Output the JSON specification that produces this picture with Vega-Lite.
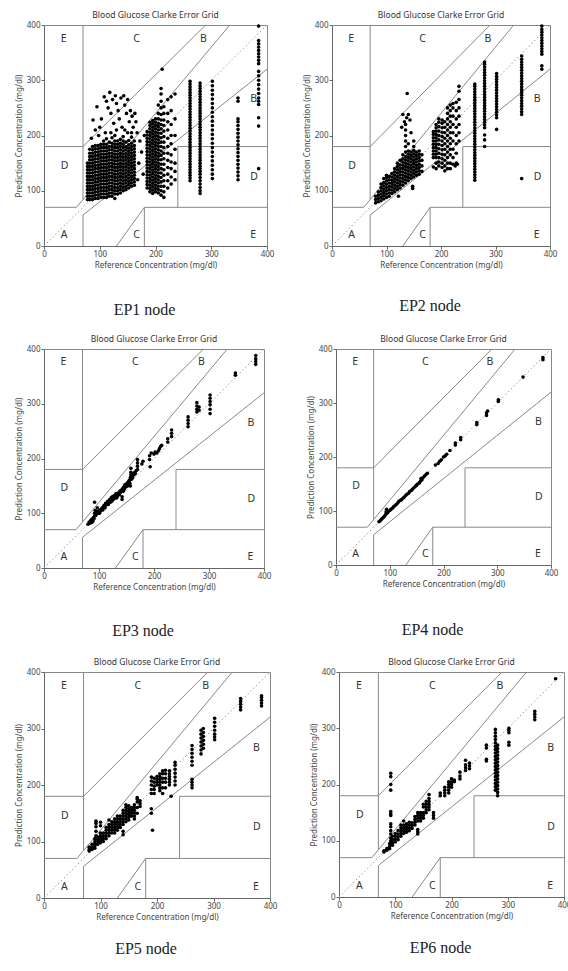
{
"$schema": "https://vega.github.io/schema/vega-lite/v6.json",
"padding": {"left": 14, "top": 10, "right": 4, "bottom": 4},
"background": "white",
"config": {
  "view": {"stroke": "#888", "strokeWidth": 1},
  "axis": {"grid": false, "labelFont": "Noto Sans", "labelFontSize": 8, "labelColor": "#444", "titleFont": "Noto Sans", "titleFontSize": 8, "titleFontWeight": "normal", "titleColor": "#444", "domainColor": "#666", "tickColor": "#666", "tickSize": 3, "labelPadding": 1, "titlePadding": 3, "labelFlush": false, "labelOverlap": false}
},
"spacing": 16,
"datasets": {
  "zones": [{"x":0,"y":70,"x2":58.33,"y2":70},{"x":58.33,"y":70,"x2":333.33,"y2":400},{"x":70,"y":84,"x2":70,"y2":400},{"x":0,"y":180,"x2":70,"y2":180},{"x":70,"y":180,"x2":290,"y2":400},{"x":70,"y":0,"x2":70,"y2":56},{"x":70,"y":56,"x2":400,"y2":320},{"x":180,"y":0,"x2":180,"y2":70},{"x":180,"y":70,"x2":400,"y2":70},{"x":240,"y":70,"x2":240,"y2":180},{"x":240,"y":180,"x2":400,"y2":180},{"x":130,"y":0,"x2":180,"y2":70}],
  "diag": [{"x":0,"y":0,"x2":400,"y2":400}],
  "labels": [{"x":30,"y":15,"t":"A"},{"x":370,"y":260,"t":"B"},{"x":280,"y":370,"t":"B"},{"x":160,"y":370,"t":"C"},{"x":160,"y":15,"t":"C"},{"x":30,"y":140,"t":"D"},{"x":370,"y":120,"t":"D"},{"x":30,"y":370,"t":"E"},{"x":370,"y":15,"t":"E"}],
  "ep1": [
{"x":78,"y":84},{"x":78,"y":90},{"x":78,"y":96},{"x":78,"y":102},{"x":78,"y":108},{"x":78,"y":114},{"x":78,"y":120},{"x":78,"y":126},{"x":78,"y":132},{"x":78,"y":138},{"x":78,"y":144},{"x":78,"y":150},
{"x":82,"y":84},{"x":82,"y":90},{"x":82,"y":96},{"x":82,"y":102},{"x":82,"y":108},{"x":82,"y":114},{"x":82,"y":120},{"x":82,"y":126},{"x":82,"y":132},{"x":82,"y":138},{"x":82,"y":144},{"x":82,"y":150},{"x":82,"y":156},{"x":82,"y":162},{"x":82,"y":168},{"x":82,"y":175},
{"x":87,"y":84},{"x":87,"y":90},{"x":87,"y":96},{"x":87,"y":102},{"x":87,"y":108},{"x":87,"y":114},{"x":87,"y":120},{"x":87,"y":126},{"x":87,"y":132},{"x":87,"y":138},{"x":87,"y":144},{"x":87,"y":150},{"x":87,"y":156},{"x":87,"y":162},{"x":87,"y":168},{"x":87,"y":174},{"x":87,"y":180},
{"x":92,"y":86},{"x":92,"y":92},{"x":92,"y":98},{"x":92,"y":104},{"x":92,"y":110},{"x":92,"y":116},{"x":92,"y":122},{"x":92,"y":128},{"x":92,"y":134},{"x":92,"y":140},{"x":92,"y":146},{"x":92,"y":152},{"x":92,"y":158},{"x":92,"y":164},{"x":92,"y":170},{"x":92,"y":176},{"x":92,"y":182},
{"x":97,"y":86},{"x":97,"y":92},{"x":97,"y":98},{"x":97,"y":104},{"x":97,"y":110},{"x":97,"y":116},{"x":97,"y":122},{"x":97,"y":128},{"x":97,"y":134},{"x":97,"y":140},{"x":97,"y":146},{"x":97,"y":152},{"x":97,"y":158},{"x":97,"y":164},{"x":97,"y":170},{"x":97,"y":176},{"x":97,"y":182},
{"x":102,"y":88},{"x":102,"y":94},{"x":102,"y":100},{"x":102,"y":106},{"x":102,"y":112},{"x":102,"y":118},{"x":102,"y":124},{"x":102,"y":130},{"x":102,"y":136},{"x":102,"y":142},{"x":102,"y":148},{"x":102,"y":154},{"x":102,"y":160},{"x":102,"y":166},{"x":102,"y":172},{"x":102,"y":178},{"x":102,"y":184},
{"x":107,"y":88},{"x":107,"y":94},{"x":107,"y":100},{"x":107,"y":106},{"x":107,"y":112},{"x":107,"y":118},{"x":107,"y":124},{"x":107,"y":130},{"x":107,"y":136},{"x":107,"y":142},{"x":107,"y":148},{"x":107,"y":154},{"x":107,"y":160},{"x":107,"y":166},{"x":107,"y":172},{"x":107,"y":178},{"x":107,"y":184},{"x":107,"y":190},
{"x":112,"y":88},{"x":112,"y":94},{"x":112,"y":100},{"x":112,"y":106},{"x":112,"y":112},{"x":112,"y":118},{"x":112,"y":124},{"x":112,"y":130},{"x":112,"y":136},{"x":112,"y":142},{"x":112,"y":148},{"x":112,"y":154},{"x":112,"y":160},{"x":112,"y":166},{"x":112,"y":172},{"x":112,"y":178},{"x":112,"y":184},{"x":112,"y":194},
{"x":117,"y":90},{"x":117,"y":96},{"x":117,"y":102},{"x":117,"y":108},{"x":117,"y":114},{"x":117,"y":120},{"x":117,"y":126},{"x":117,"y":132},{"x":117,"y":138},{"x":117,"y":144},{"x":117,"y":150},{"x":117,"y":156},{"x":117,"y":162},{"x":117,"y":168},{"x":117,"y":174},{"x":117,"y":180},{"x":117,"y":188},
{"x":122,"y":90},{"x":122,"y":96},{"x":122,"y":102},{"x":122,"y":108},{"x":122,"y":114},{"x":122,"y":120},{"x":122,"y":126},{"x":122,"y":132},{"x":122,"y":138},{"x":122,"y":144},{"x":122,"y":150},{"x":122,"y":156},{"x":122,"y":162},{"x":122,"y":168},{"x":122,"y":174},{"x":122,"y":180},{"x":122,"y":186},{"x":122,"y":196},
{"x":127,"y":86},{"x":127,"y":94},{"x":127,"y":100},{"x":127,"y":106},{"x":127,"y":112},{"x":127,"y":118},{"x":127,"y":124},{"x":127,"y":130},{"x":127,"y":136},{"x":127,"y":142},{"x":127,"y":148},{"x":127,"y":154},{"x":127,"y":160},{"x":127,"y":166},{"x":127,"y":172},{"x":127,"y":178},{"x":127,"y":184},{"x":127,"y":190},{"x":127,"y":200},
{"x":132,"y":94},{"x":132,"y":100},{"x":132,"y":106},{"x":132,"y":112},{"x":132,"y":118},{"x":132,"y":124},{"x":132,"y":130},{"x":132,"y":136},{"x":132,"y":142},{"x":132,"y":148},{"x":132,"y":154},{"x":132,"y":160},{"x":132,"y":166},{"x":132,"y":172},{"x":132,"y":178},{"x":132,"y":184},{"x":132,"y":190},
{"x":137,"y":96},{"x":137,"y":102},{"x":137,"y":108},{"x":137,"y":114},{"x":137,"y":120},{"x":137,"y":126},{"x":137,"y":132},{"x":137,"y":138},{"x":137,"y":144},{"x":137,"y":150},{"x":137,"y":156},{"x":137,"y":162},{"x":137,"y":168},{"x":137,"y":174},{"x":137,"y":180},{"x":137,"y":186},{"x":137,"y":193},
{"x":142,"y":100},{"x":142,"y":106},{"x":142,"y":112},{"x":142,"y":118},{"x":142,"y":124},{"x":142,"y":130},{"x":142,"y":136},{"x":142,"y":142},{"x":142,"y":148},{"x":142,"y":154},{"x":142,"y":160},{"x":142,"y":166},{"x":142,"y":172},{"x":142,"y":178},{"x":142,"y":184},{"x":142,"y":190},{"x":142,"y":198},
{"x":147,"y":102},{"x":147,"y":108},{"x":147,"y":114},{"x":147,"y":120},{"x":147,"y":126},{"x":147,"y":132},{"x":147,"y":138},{"x":147,"y":144},{"x":147,"y":150},{"x":147,"y":156},{"x":147,"y":162},{"x":147,"y":168},{"x":147,"y":174},{"x":147,"y":180},{"x":147,"y":188},
{"x":152,"y":105},{"x":152,"y":111},{"x":152,"y":117},{"x":152,"y":123},{"x":152,"y":129},{"x":152,"y":135},{"x":152,"y":141},{"x":152,"y":147},{"x":152,"y":153},{"x":152,"y":159},{"x":152,"y":165},{"x":152,"y":171},{"x":152,"y":177},{"x":152,"y":183},{"x":152,"y":191},
{"x":157,"y":108},{"x":157,"y":114},{"x":157,"y":120},{"x":157,"y":126},{"x":157,"y":132},{"x":157,"y":138},{"x":157,"y":144},{"x":157,"y":150},{"x":157,"y":156},{"x":157,"y":162},{"x":157,"y":168},{"x":157,"y":174},{"x":157,"y":180},{"x":157,"y":186},{"x":157,"y":197},{"x":157,"y":205},
{"x":162,"y":110},{"x":162,"y":116},{"x":162,"y":122},{"x":162,"y":128},{"x":162,"y":134},{"x":162,"y":140},{"x":162,"y":146},{"x":162,"y":152},{"x":162,"y":158},{"x":162,"y":164},{"x":162,"y":170},{"x":162,"y":176},{"x":162,"y":182},{"x":162,"y":190},
{"x":95,"y":252},{"x":88,"y":228},{"x":92,"y":210},{"x":100,"y":215},{"x":103,"y":230},{"x":108,"y":270},{"x":112,"y":262},{"x":115,"y":250},{"x":118,"y":278},{"x":120,"y":240},{"x":123,"y":265},{"x":125,"y":222},{"x":128,"y":272},{"x":130,"y":258},{"x":133,"y":245},{"x":135,"y":230},{"x":138,"y":268},{"x":140,"y":215},{"x":143,"y":272},{"x":145,"y":255},{"x":148,"y":240},{"x":150,"y":265},{"x":153,"y":225},{"x":155,"y":245},{"x":158,"y":235},{"x":160,"y":215},{"x":163,"y":240},{"x":165,"y":225},{"x":110,"y":205},{"x":130,"y":210},{"x":120,"y":205},{"x":150,"y":205},{"x":145,"y":210},{"x":98,"y":200},{"x":85,"y":195},
{"x":168,"y":120},{"x":170,"y":150},{"x":172,"y":190},{"x":175,"y":170},{"x":178,"y":130},{"x":180,"y":200},{"x":167,"y":205},
{"x":185,"y":105},{"x":185,"y":111},{"x":185,"y":117},{"x":185,"y":123},{"x":185,"y":129},{"x":185,"y":135},{"x":185,"y":141},{"x":185,"y":147},{"x":185,"y":153},{"x":185,"y":159},{"x":185,"y":165},{"x":185,"y":171},{"x":185,"y":177},{"x":185,"y":183},{"x":185,"y":189},{"x":185,"y":195},{"x":185,"y":201},{"x":185,"y":207},
{"x":190,"y":98},{"x":190,"y":104},{"x":190,"y":110},{"x":190,"y":116},{"x":190,"y":122},{"x":190,"y":128},{"x":190,"y":134},{"x":190,"y":140},{"x":190,"y":146},{"x":190,"y":152},{"x":190,"y":158},{"x":190,"y":164},{"x":190,"y":170},{"x":190,"y":176},{"x":190,"y":182},{"x":190,"y":188},{"x":190,"y":194},{"x":190,"y":200},{"x":190,"y":206},{"x":190,"y":212},{"x":190,"y":218},{"x":190,"y":224},
{"x":195,"y":95},{"x":195,"y":101},{"x":195,"y":107},{"x":195,"y":113},{"x":195,"y":119},{"x":195,"y":125},{"x":195,"y":131},{"x":195,"y":137},{"x":195,"y":143},{"x":195,"y":149},{"x":195,"y":155},{"x":195,"y":161},{"x":195,"y":167},{"x":195,"y":173},{"x":195,"y":179},{"x":195,"y":185},{"x":195,"y":191},{"x":195,"y":197},{"x":195,"y":203},{"x":195,"y":209},{"x":195,"y":215},{"x":195,"y":221},{"x":195,"y":227},
{"x":200,"y":98},{"x":200,"y":104},{"x":200,"y":110},{"x":200,"y":116},{"x":200,"y":122},{"x":200,"y":128},{"x":200,"y":134},{"x":200,"y":140},{"x":200,"y":146},{"x":200,"y":152},{"x":200,"y":158},{"x":200,"y":164},{"x":200,"y":170},{"x":200,"y":176},{"x":200,"y":182},{"x":200,"y":188},{"x":200,"y":194},{"x":200,"y":200},{"x":200,"y":206},{"x":200,"y":212},{"x":200,"y":218},{"x":200,"y":224},{"x":200,"y":230},
{"x":205,"y":96},{"x":205,"y":102},{"x":205,"y":108},{"x":205,"y":114},{"x":205,"y":120},{"x":205,"y":126},{"x":205,"y":132},{"x":205,"y":138},{"x":205,"y":144},{"x":205,"y":150},{"x":205,"y":156},{"x":205,"y":162},{"x":205,"y":168},{"x":205,"y":174},{"x":205,"y":180},{"x":205,"y":186},{"x":205,"y":192},{"x":205,"y":198},{"x":205,"y":204},{"x":205,"y":210},{"x":205,"y":216},{"x":205,"y":222},{"x":205,"y":230},{"x":205,"y":240},{"x":205,"y":255},
{"x":210,"y":92},{"x":210,"y":100},{"x":210,"y":108},{"x":210,"y":116},{"x":210,"y":124},{"x":210,"y":132},{"x":210,"y":140},{"x":210,"y":148},{"x":210,"y":156},{"x":210,"y":164},{"x":210,"y":172},{"x":210,"y":180},{"x":210,"y":188},{"x":210,"y":196},{"x":210,"y":204},{"x":210,"y":212},{"x":210,"y":220},{"x":210,"y":228},{"x":210,"y":238},{"x":210,"y":250},{"x":210,"y":262},{"x":210,"y":275},{"x":210,"y":285},
{"x":215,"y":88},{"x":215,"y":98},{"x":215,"y":108},{"x":215,"y":118},{"x":215,"y":128},{"x":215,"y":138},{"x":215,"y":148},{"x":215,"y":158},{"x":215,"y":168},{"x":215,"y":178},{"x":215,"y":188},{"x":215,"y":198},{"x":215,"y":208},{"x":215,"y":218},{"x":215,"y":228},{"x":215,"y":240},{"x":215,"y":252},
{"x":222,"y":105},{"x":222,"y":118},{"x":222,"y":130},{"x":222,"y":142},{"x":222,"y":155},{"x":222,"y":168},{"x":222,"y":180},{"x":222,"y":195},{"x":222,"y":210},{"x":222,"y":225},{"x":222,"y":240},{"x":222,"y":265},
{"x":228,"y":112},{"x":228,"y":125},{"x":228,"y":140},{"x":228,"y":152},{"x":228,"y":165},{"x":228,"y":185},{"x":228,"y":200},{"x":228,"y":220},{"x":228,"y":245},{"x":228,"y":270},
{"x":235,"y":120},{"x":235,"y":135},{"x":235,"y":150},{"x":235,"y":175},{"x":235,"y":200},{"x":235,"y":230},{"x":235,"y":275},{"x":212,"y":320},
{"x":262,"y":118},{"x":262,"y":123},{"x":262,"y":128},{"x":262,"y":133},{"x":262,"y":138},{"x":262,"y":143},{"x":262,"y":148},{"x":262,"y":153},{"x":262,"y":158},{"x":262,"y":163},{"x":262,"y":168},{"x":262,"y":173},{"x":262,"y":178},{"x":262,"y":183},{"x":262,"y":188},{"x":262,"y":193},{"x":262,"y":198},{"x":262,"y":203},{"x":262,"y":208},{"x":262,"y":213},{"x":262,"y":218},{"x":262,"y":223},{"x":262,"y":228},{"x":262,"y":233},{"x":262,"y":238},{"x":262,"y":243},{"x":262,"y":248},{"x":262,"y":253},{"x":262,"y":258},{"x":262,"y":263},{"x":262,"y":268},{"x":262,"y":273},{"x":262,"y":278},{"x":262,"y":283},{"x":262,"y":288},{"x":262,"y":293},{"x":262,"y":298},
{"x":280,"y":95},{"x":280,"y":100},{"x":280,"y":106},{"x":280,"y":112},{"x":280,"y":118},{"x":280,"y":124},{"x":280,"y":130},{"x":280,"y":135},{"x":280,"y":140},{"x":280,"y":145},{"x":280,"y":150},{"x":280,"y":155},{"x":280,"y":160},{"x":280,"y":165},{"x":280,"y":170},{"x":280,"y":175},{"x":280,"y":180},{"x":280,"y":185},{"x":280,"y":190},{"x":280,"y":195},{"x":280,"y":200},{"x":280,"y":205},{"x":280,"y":210},{"x":280,"y":215},{"x":280,"y":220},{"x":280,"y":225},{"x":280,"y":230},{"x":280,"y":235},{"x":280,"y":240},{"x":280,"y":245},{"x":280,"y":250},{"x":280,"y":255},{"x":280,"y":260},{"x":280,"y":265},{"x":280,"y":270},{"x":280,"y":275},{"x":280,"y":280},{"x":280,"y":285},{"x":280,"y":290},{"x":280,"y":295},
{"x":302,"y":122},{"x":302,"y":130},{"x":302,"y":138},{"x":302,"y":146},{"x":302,"y":154},{"x":302,"y":162},{"x":302,"y":170},{"x":302,"y":178},{"x":302,"y":186},{"x":302,"y":194},{"x":302,"y":202},{"x":302,"y":210},{"x":302,"y":218},{"x":302,"y":226},{"x":302,"y":234},{"x":302,"y":242},{"x":302,"y":250},{"x":302,"y":258},{"x":302,"y":266},{"x":302,"y":274},{"x":302,"y":282},{"x":302,"y":290},{"x":302,"y":298},
{"x":348,"y":120},{"x":348,"y":127},{"x":348,"y":134},{"x":348,"y":141},{"x":348,"y":148},{"x":348,"y":155},{"x":348,"y":162},{"x":348,"y":169},{"x":348,"y":176},{"x":348,"y":183},{"x":348,"y":190},{"x":348,"y":197},{"x":348,"y":204},{"x":348,"y":211},{"x":348,"y":218},{"x":348,"y":225},{"x":348,"y":230},{"x":348,"y":262},{"x":348,"y":268},
{"x":385,"y":398},{"x":385,"y":372},{"x":385,"y":366},{"x":385,"y":360},{"x":385,"y":354},{"x":385,"y":348},{"x":385,"y":342},{"x":385,"y":336},{"x":385,"y":330},{"x":385,"y":316},{"x":385,"y":308},{"x":385,"y":300},{"x":385,"y":292},{"x":385,"y":284},{"x":385,"y":276},{"x":385,"y":268},{"x":385,"y":262},{"x":385,"y":256},{"x":385,"y":232},{"x":385,"y":217},{"x":385,"y":140}
  ],
  "ep2": [
{"x":80,"y":78},{"x":80,"y":84},{"x":80,"y":90},
{"x":85,"y":80},{"x":85,"y":86},{"x":85,"y":92},{"x":85,"y":98},
{"x":90,"y":82},{"x":90,"y":88},{"x":90,"y":94},{"x":90,"y":100},{"x":90,"y":106},{"x":90,"y":112},
{"x":95,"y":85},{"x":95,"y":91},{"x":95,"y":97},{"x":95,"y":103},{"x":95,"y":109},{"x":95,"y":115},{"x":95,"y":122},
{"x":100,"y":88},{"x":100,"y":94},{"x":100,"y":100},{"x":100,"y":106},{"x":100,"y":112},{"x":100,"y":118},{"x":100,"y":124},{"x":100,"y":128},
{"x":105,"y":90},{"x":105,"y":96},{"x":105,"y":102},{"x":105,"y":108},{"x":105,"y":114},{"x":105,"y":120},{"x":105,"y":126},
{"x":110,"y":95},{"x":110,"y":101},{"x":110,"y":107},{"x":110,"y":113},{"x":110,"y":119},{"x":110,"y":125},{"x":110,"y":131},
{"x":115,"y":98},{"x":115,"y":104},{"x":115,"y":110},{"x":115,"y":116},{"x":115,"y":122},{"x":115,"y":128},{"x":115,"y":134},{"x":115,"y":140},
{"x":120,"y":102},{"x":120,"y":108},{"x":120,"y":114},{"x":120,"y":120},{"x":120,"y":126},{"x":120,"y":132},{"x":120,"y":138},{"x":120,"y":144},{"x":120,"y":150},
{"x":125,"y":105},{"x":125,"y":111},{"x":125,"y":117},{"x":125,"y":123},{"x":125,"y":129},{"x":125,"y":135},{"x":125,"y":141},{"x":125,"y":147},{"x":125,"y":155},
{"x":130,"y":110},{"x":130,"y":116},{"x":130,"y":122},{"x":130,"y":128},{"x":130,"y":134},{"x":130,"y":140},{"x":130,"y":146},{"x":130,"y":152},{"x":130,"y":158},{"x":130,"y":165},
{"x":135,"y":114},{"x":135,"y":120},{"x":135,"y":126},{"x":135,"y":132},{"x":135,"y":138},{"x":135,"y":144},{"x":135,"y":150},{"x":135,"y":156},{"x":135,"y":162},{"x":135,"y":170},{"x":135,"y":180},{"x":135,"y":190},{"x":135,"y":200},{"x":135,"y":210},{"x":135,"y":220},
{"x":140,"y":118},{"x":140,"y":124},{"x":140,"y":130},{"x":140,"y":136},{"x":140,"y":142},{"x":140,"y":148},{"x":140,"y":154},{"x":140,"y":160},{"x":140,"y":166},{"x":140,"y":172},{"x":140,"y":185},
{"x":145,"y":122},{"x":145,"y":128},{"x":145,"y":134},{"x":145,"y":140},{"x":145,"y":146},{"x":145,"y":152},{"x":145,"y":158},{"x":145,"y":164},{"x":145,"y":170},
{"x":150,"y":125},{"x":150,"y":131},{"x":150,"y":137},{"x":150,"y":143},{"x":150,"y":149},{"x":150,"y":155},{"x":150,"y":161},{"x":150,"y":167},{"x":150,"y":173},{"x":150,"y":180},{"x":150,"y":190},
{"x":155,"y":128},{"x":155,"y":134},{"x":155,"y":140},{"x":155,"y":146},{"x":155,"y":152},{"x":155,"y":158},{"x":155,"y":164},{"x":155,"y":170},
{"x":160,"y":130},{"x":160,"y":136},{"x":160,"y":142},{"x":160,"y":148},{"x":160,"y":154},{"x":160,"y":160},{"x":160,"y":166},{"x":160,"y":172},
{"x":165,"y":135},{"x":165,"y":145},{"x":165,"y":155},{"x":165,"y":165},
{"x":130,"y":238},{"x":133,"y":225},{"x":128,"y":215},{"x":137,"y":232},{"x":140,"y":238},{"x":143,"y":228},{"x":138,"y":276},{"x":145,"y":205},{"x":148,"y":108},{"x":148,"y":104},{"x":122,"y":90},
{"x":186,"y":143},{"x":186,"y":160},{"x":186,"y":166},{"x":186,"y":172},{"x":186,"y":178},{"x":186,"y":184},{"x":186,"y":190},{"x":186,"y":196},{"x":186,"y":202},{"x":186,"y":207},
{"x":191,"y":140},{"x":191,"y":150},{"x":191,"y":160},{"x":191,"y":166},{"x":191,"y":172},{"x":191,"y":178},{"x":191,"y":184},{"x":191,"y":190},{"x":191,"y":196},{"x":191,"y":202},{"x":191,"y":208},{"x":191,"y":214},{"x":191,"y":220},
{"x":196,"y":145},{"x":196,"y":152},{"x":196,"y":160},{"x":196,"y":168},{"x":196,"y":176},{"x":196,"y":184},{"x":196,"y":192},{"x":196,"y":200},{"x":196,"y":208},{"x":196,"y":216},{"x":196,"y":224},{"x":196,"y":230},
{"x":202,"y":142},{"x":202,"y":150},{"x":202,"y":158},{"x":202,"y":166},{"x":202,"y":174},{"x":202,"y":182},{"x":202,"y":190},{"x":202,"y":198},{"x":202,"y":206},{"x":202,"y":214},{"x":202,"y":222},{"x":202,"y":228},
{"x":207,"y":136},{"x":207,"y":145},{"x":207,"y":155},{"x":207,"y":165},{"x":207,"y":175},{"x":207,"y":185},{"x":207,"y":195},{"x":207,"y":205},{"x":207,"y":215},{"x":207,"y":225},
{"x":212,"y":140},{"x":212,"y":150},{"x":212,"y":160},{"x":212,"y":170},{"x":212,"y":180},{"x":212,"y":190},{"x":212,"y":200},{"x":212,"y":210},{"x":212,"y":220},{"x":212,"y":230},{"x":212,"y":240},{"x":212,"y":250},
{"x":217,"y":140},{"x":217,"y":150},{"x":217,"y":165},{"x":217,"y":175},{"x":217,"y":185},{"x":217,"y":195},{"x":217,"y":205},{"x":217,"y":215},{"x":217,"y":225},{"x":217,"y":235},{"x":217,"y":245},{"x":217,"y":255},
{"x":222,"y":148},{"x":222,"y":160},{"x":222,"y":175},{"x":222,"y":190},{"x":222,"y":205},{"x":222,"y":220},{"x":222,"y":235},{"x":222,"y":250},{"x":222,"y":258},
{"x":228,"y":150},{"x":228,"y":168},{"x":228,"y":185},{"x":228,"y":200},{"x":228,"y":215},{"x":228,"y":230},{"x":228,"y":245},{"x":228,"y":260},
{"x":233,"y":190},{"x":233,"y":205},{"x":233,"y":220},{"x":233,"y":235},{"x":233,"y":250},{"x":233,"y":265},{"x":233,"y":280},{"x":233,"y":289},{"x":230,"y":148},{"x":226,"y":145},
{"x":262,"y":119},{"x":262,"y":124},{"x":262,"y":129},{"x":262,"y":134},{"x":262,"y":139},{"x":262,"y":144},{"x":262,"y":149},{"x":262,"y":154},{"x":262,"y":159},{"x":262,"y":164},{"x":262,"y":169},{"x":262,"y":174},{"x":262,"y":179},{"x":262,"y":184},{"x":262,"y":189},{"x":262,"y":194},{"x":262,"y":199},{"x":262,"y":204},{"x":262,"y":209},{"x":262,"y":214},{"x":262,"y":219},{"x":262,"y":224},{"x":262,"y":229},{"x":262,"y":234},{"x":262,"y":239},{"x":262,"y":244},{"x":262,"y":249},{"x":262,"y":254},{"x":262,"y":259},{"x":262,"y":264},{"x":262,"y":269},{"x":262,"y":274},{"x":262,"y":279},{"x":262,"y":284},{"x":262,"y":289},{"x":262,"y":293},
{"x":280,"y":180},{"x":280,"y":192},{"x":280,"y":201},{"x":280,"y":214},{"x":280,"y":219},{"x":280,"y":224},{"x":280,"y":229},{"x":280,"y":234},{"x":280,"y":239},{"x":280,"y":244},{"x":280,"y":249},{"x":280,"y":254},{"x":280,"y":259},{"x":280,"y":264},{"x":280,"y":269},{"x":280,"y":274},{"x":280,"y":279},{"x":280,"y":284},{"x":280,"y":289},{"x":280,"y":294},{"x":280,"y":299},{"x":280,"y":304},{"x":280,"y":309},{"x":280,"y":314},{"x":280,"y":319},{"x":280,"y":324},{"x":280,"y":329},{"x":280,"y":333},
{"x":302,"y":211},{"x":302,"y":232},{"x":302,"y":237},{"x":302,"y":242},{"x":302,"y":247},{"x":302,"y":252},{"x":302,"y":257},{"x":302,"y":262},{"x":302,"y":267},{"x":302,"y":272},{"x":302,"y":277},{"x":302,"y":282},{"x":302,"y":287},{"x":302,"y":292},{"x":302,"y":297},{"x":302,"y":302},{"x":302,"y":307},{"x":302,"y":312},
{"x":348,"y":238},{"x":348,"y":243},{"x":348,"y":248},{"x":348,"y":253},{"x":348,"y":258},{"x":348,"y":263},{"x":348,"y":268},{"x":348,"y":273},{"x":348,"y":278},{"x":348,"y":283},{"x":348,"y":288},{"x":348,"y":293},{"x":348,"y":298},{"x":348,"y":303},{"x":348,"y":308},{"x":348,"y":313},{"x":348,"y":318},{"x":348,"y":323},{"x":348,"y":328},{"x":348,"y":333},{"x":348,"y":338},{"x":348,"y":344},{"x":348,"y":122},
{"x":385,"y":320},{"x":385,"y":326},{"x":385,"y":347},{"x":385,"y":352},{"x":385,"y":357},{"x":385,"y":362},{"x":385,"y":367},{"x":385,"y":372},{"x":385,"y":377},{"x":385,"y":382},{"x":385,"y":387},{"x":385,"y":392},{"x":385,"y":398}
  ],
  "ep3": [
{"x":80,"y":80},{"x":82,"y":84},{"x":85,"y":86},{"x":87,"y":83},{"x":88,"y":90},{"x":90,"y":92},{"x":92,"y":95},{"x":92,"y":100},{"x":93,"y":105},{"x":92,"y":120},{"x":95,"y":98},{"x":95,"y":103},{"x":97,"y":110},{"x":98,"y":100},{"x":100,"y":103},{"x":102,"y":106},{"x":105,"y":108},{"x":108,"y":110},{"x":110,"y":112},{"x":112,"y":118},{"x":115,"y":118},{"x":118,"y":120},{"x":120,"y":125},{"x":122,"y":128},{"x":125,"y":126},{"x":128,"y":130},{"x":130,"y":132},{"x":133,"y":130},{"x":135,"y":136},{"x":138,"y":140},{"x":140,"y":142},{"x":142,"y":125},{"x":142,"y":130},{"x":145,"y":148},{"x":148,"y":150},{"x":150,"y":152},{"x":153,"y":155},{"x":155,"y":160},{"x":157,"y":150},{"x":157,"y":165},{"x":158,"y":170},{"x":158,"y":175},{"x":158,"y":182},{"x":160,"y":168},{"x":162,"y":172},
{"x":84,"y":82},{"x":86,"y":88},{"x":89,"y":86},{"x":91,"y":90},{"x":94,"y":96},{"x":96,"y":100},{"x":99,"y":104},{"x":101,"y":100},{"x":103,"y":104},{"x":106,"y":110},{"x":107,"y":106},{"x":109,"y":114},{"x":111,"y":110},{"x":113,"y":115},{"x":116,"y":122},{"x":117,"y":116},{"x":119,"y":124},{"x":121,"y":120},{"x":123,"y":122},{"x":124,"y":130},{"x":126,"y":125},{"x":127,"y":132},{"x":129,"y":128},{"x":131,"y":136},{"x":132,"y":128},{"x":134,"y":134},{"x":136,"y":138},{"x":137,"y":134},{"x":139,"y":138},{"x":141,"y":140},{"x":143,"y":145},{"x":144,"y":140},{"x":146,"y":144},{"x":147,"y":152},{"x":149,"y":148},{"x":151,"y":155},{"x":152,"y":150},{"x":154,"y":158},{"x":156,"y":155},{"x":159,"y":162},{"x":161,"y":165},{"x":163,"y":170},{"x":165,"y":175},{"x":166,"y":172},{"x":168,"y":178},
{"x":170,"y":180},{"x":170,"y":186},{"x":170,"y":192},{"x":170,"y":198},{"x":178,"y":190},{"x":180,"y":195},{"x":192,"y":198},{"x":192,"y":205},{"x":193,"y":185},{"x":195,"y":210},{"x":200,"y":208},{"x":202,"y":212},{"x":205,"y":210},{"x":208,"y":214},{"x":210,"y":218},{"x":212,"y":222},{"x":214,"y":224},{"x":225,"y":230},{"x":225,"y":236},{"x":232,"y":240},{"x":232,"y":246},{"x":232,"y":252},{"x":262,"y":258},{"x":262,"y":264},{"x":262,"y":270},{"x":262,"y":276},{"x":278,"y":285},{"x":278,"y":290},{"x":278,"y":296},{"x":278,"y":302},{"x":282,"y":288},{"x":282,"y":294},{"x":302,"y":282},{"x":302,"y":290},{"x":302,"y":298},{"x":302,"y":304},{"x":302,"y":310},{"x":302,"y":316},{"x":348,"y":352},{"x":348,"y":356},{"x":385,"y":372},{"x":385,"y":377},{"x":385,"y":382},{"x":385,"y":388}
  ],
  "ep4": [
{"x":80,"y":80},{"x":82,"y":82},{"x":84,"y":84},{"x":86,"y":86},{"x":88,"y":88},{"x":90,"y":90},{"x":92,"y":93},{"x":93,"y":98},{"x":94,"y":103},{"x":95,"y":96},{"x":97,"y":98},{"x":100,"y":101},{"x":102,"y":103},{"x":105,"y":105},{"x":107,"y":108},{"x":110,"y":110},{"x":112,"y":112},{"x":115,"y":115},{"x":117,"y":118},{"x":120,"y":120},{"x":122,"y":121},{"x":125,"y":124},{"x":127,"y":126},{"x":130,"y":129},{"x":132,"y":131},{"x":135,"y":133},{"x":137,"y":136},{"x":140,"y":138},{"x":142,"y":140},{"x":145,"y":143},{"x":148,"y":146},{"x":150,"y":148},{"x":152,"y":150},{"x":155,"y":152},{"x":157,"y":155},{"x":158,"y":160},{"x":160,"y":158},{"x":162,"y":162},{"x":165,"y":165},{"x":168,"y":168},{"x":170,"y":170},{"x":185,"y":185},{"x":190,"y":188},{"x":193,"y":192},{"x":196,"y":195},{"x":200,"y":200},{"x":203,"y":202},{"x":206,"y":205},{"x":212,"y":212},{"x":222,"y":222},{"x":222,"y":226},{"x":232,"y":232},{"x":232,"y":236},{"x":262,"y":260},{"x":262,"y":264},{"x":280,"y":277},{"x":280,"y":282},{"x":282,"y":285},{"x":302,"y":303},{"x":302,"y":306},{"x":348,"y":348},{"x":385,"y":380},{"x":385,"y":384}
  ],
  "ep5": [
{"x":80,"y":83},{"x":80,"y":86},{"x":80,"y":90},{"x":85,"y":86},{"x":85,"y":90},{"x":85,"y":95},
{"x":90,"y":88},{"x":90,"y":92},{"x":90,"y":96},{"x":90,"y":100},{"x":90,"y":105},
{"x":92,"y":110},{"x":92,"y":118},{"x":92,"y":126},{"x":92,"y":132},{"x":92,"y":136},
{"x":95,"y":95},{"x":95,"y":100},{"x":95,"y":104},{"x":95,"y":108},
{"x":100,"y":98},{"x":100,"y":102},{"x":100,"y":106},{"x":100,"y":110},{"x":100,"y":115},{"x":100,"y":128},{"x":100,"y":134},
{"x":105,"y":100},{"x":105,"y":105},{"x":105,"y":110},{"x":105,"y":115},
{"x":110,"y":105},{"x":110,"y":110},{"x":110,"y":115},{"x":110,"y":120},{"x":110,"y":125},
{"x":115,"y":110},{"x":115,"y":115},{"x":115,"y":120},{"x":115,"y":125},{"x":115,"y":130},{"x":115,"y":138},
{"x":120,"y":115},{"x":120,"y":120},{"x":120,"y":125},{"x":120,"y":130},{"x":120,"y":135},
{"x":125,"y":115},{"x":125,"y":120},{"x":125,"y":125},{"x":125,"y":130},{"x":125,"y":135},{"x":125,"y":140},
{"x":130,"y":120},{"x":130,"y":125},{"x":130,"y":130},{"x":130,"y":135},{"x":130,"y":140},{"x":130,"y":145},
{"x":135,"y":125},{"x":135,"y":130},{"x":135,"y":135},{"x":135,"y":140},{"x":135,"y":145},
{"x":140,"y":112},{"x":140,"y":118},{"x":140,"y":130},{"x":140,"y":135},{"x":140,"y":140},{"x":140,"y":145},{"x":140,"y":150},{"x":140,"y":155},
{"x":145,"y":135},{"x":145,"y":140},{"x":145,"y":145},{"x":145,"y":150},{"x":145,"y":155},{"x":145,"y":160},{"x":145,"y":165},
{"x":150,"y":138},{"x":150,"y":143},{"x":150,"y":148},{"x":150,"y":153},{"x":150,"y":158},{"x":150,"y":163},
{"x":155,"y":145},{"x":155,"y":150},{"x":155,"y":155},{"x":155,"y":160},
{"x":160,"y":140},{"x":160,"y":145},{"x":160,"y":150},{"x":160,"y":155},{"x":160,"y":160},{"x":160,"y":165},
{"x":165,"y":150},{"x":165,"y":160},{"x":165,"y":170},{"x":165,"y":175},{"x":165,"y":178},
{"x":170,"y":162},{"x":170,"y":167},{"x":170,"y":172},
{"x":192,"y":120},
{"x":190,"y":150},{"x":190,"y":158},{"x":190,"y":185},{"x":190,"y":192},{"x":190,"y":200},{"x":190,"y":207},{"x":190,"y":214},
{"x":195,"y":185},{"x":195,"y":192},{"x":195,"y":198},{"x":195,"y":205},{"x":195,"y":212},
{"x":200,"y":200},{"x":200,"y":205},{"x":200,"y":210},{"x":200,"y":215},
{"x":205,"y":190},{"x":205,"y":195},{"x":205,"y":200},{"x":205,"y":205},{"x":205,"y":210},{"x":205,"y":215},{"x":205,"y":220},
{"x":210,"y":185},{"x":210,"y":195},{"x":210,"y":205},{"x":210,"y":212},{"x":210,"y":220},{"x":210,"y":225},
{"x":215,"y":195},{"x":215,"y":205},{"x":215,"y":212},{"x":215,"y":220},{"x":215,"y":226},
{"x":222,"y":200},{"x":222,"y":205},{"x":222,"y":210},{"x":222,"y":215},{"x":222,"y":220},{"x":222,"y":225},
{"x":225,"y":180},
{"x":232,"y":200},{"x":232,"y":207},{"x":232,"y":214},{"x":232,"y":221},{"x":232,"y":228},{"x":232,"y":235},{"x":232,"y":240},
{"x":262,"y":195},{"x":262,"y":200},{"x":262,"y":205},{"x":262,"y":210},{"x":262,"y":235},{"x":262,"y":242},{"x":262,"y":249},{"x":262,"y":256},{"x":262,"y":263},{"x":262,"y":270},
{"x":278,"y":255},{"x":278,"y":262},{"x":278,"y":269},{"x":278,"y":276},{"x":278,"y":283},{"x":278,"y":290},{"x":278,"y":297},
{"x":282,"y":265},{"x":282,"y":272},{"x":282,"y":279},{"x":282,"y":286},{"x":282,"y":293},{"x":282,"y":300},
{"x":302,"y":280},{"x":302,"y":285},{"x":302,"y":290},{"x":302,"y":297},{"x":302,"y":304},{"x":302,"y":311},{"x":302,"y":318},
{"x":348,"y":333},{"x":348,"y":338},{"x":348,"y":343},{"x":348,"y":348},{"x":348,"y":353},
{"x":385,"y":340},{"x":385,"y":345},{"x":385,"y":350},{"x":385,"y":355},{"x":385,"y":358}
  ],
  "ep6": [
{"x":92,"y":220},{"x":92,"y":214},{"x":92,"y":200},{"x":92,"y":190},{"x":92,"y":152},{"x":92,"y":148},{"x":92,"y":145},{"x":92,"y":130},{"x":92,"y":125},{"x":92,"y":118},{"x":92,"y":112},{"x":92,"y":105},{"x":92,"y":100},{"x":92,"y":95},
{"x":80,"y":80},{"x":80,"y":82},{"x":85,"y":83},{"x":85,"y":86},{"x":90,"y":86},{"x":90,"y":90},{"x":90,"y":95},
{"x":95,"y":92},{"x":95,"y":97},{"x":95,"y":102},{"x":95,"y":108},
{"x":100,"y":98},{"x":100,"y":103},{"x":100,"y":108},{"x":100,"y":113},
{"x":105,"y":102},{"x":105,"y":107},{"x":105,"y":112},{"x":105,"y":118},
{"x":110,"y":108},{"x":110,"y":113},{"x":110,"y":118},{"x":110,"y":123},{"x":110,"y":128},
{"x":115,"y":113},{"x":115,"y":118},{"x":115,"y":123},{"x":115,"y":128},{"x":115,"y":135},
{"x":120,"y":115},{"x":120,"y":120},{"x":120,"y":125},{"x":120,"y":130},
{"x":125,"y":118},{"x":125,"y":123},{"x":125,"y":128},{"x":125,"y":133},
{"x":130,"y":122},{"x":130,"y":127},{"x":130,"y":132},
{"x":135,"y":128},{"x":135,"y":133},{"x":135,"y":138},{"x":135,"y":143},
{"x":140,"y":112},{"x":140,"y":116},{"x":140,"y":120},{"x":140,"y":135},{"x":140,"y":140},{"x":140,"y":145},{"x":140,"y":150},
{"x":145,"y":135},{"x":145,"y":140},{"x":145,"y":145},{"x":145,"y":150},
{"x":150,"y":140},{"x":150,"y":145},{"x":150,"y":150},{"x":150,"y":160},{"x":150,"y":165},
{"x":155,"y":150},{"x":155,"y":155},{"x":155,"y":160},{"x":155,"y":165},{"x":155,"y":170},
{"x":160,"y":155},{"x":160,"y":160},{"x":160,"y":165},{"x":160,"y":170},{"x":160,"y":175},{"x":160,"y":182},
{"x":168,"y":140},{"x":168,"y":145},{"x":168,"y":150},
{"x":180,"y":180},{"x":180,"y":185},
{"x":188,"y":180},{"x":188,"y":185},{"x":188,"y":190},{"x":188,"y":195},
{"x":195,"y":185},{"x":195,"y":190},{"x":195,"y":195},{"x":195,"y":200},{"x":195,"y":205},
{"x":200,"y":195},{"x":200,"y":200},{"x":200,"y":205},{"x":200,"y":210},
{"x":205,"y":205},{"x":205,"y":208},
{"x":215,"y":210},{"x":215,"y":215},{"x":215,"y":222},
{"x":225,"y":225},{"x":225,"y":230},{"x":225,"y":235},{"x":225,"y":243},
{"x":232,"y":228},{"x":232,"y":233},{"x":232,"y":238},
{"x":262,"y":242},{"x":262,"y":245},{"x":262,"y":265},{"x":262,"y":270},
{"x":278,"y":190},{"x":278,"y":196},{"x":278,"y":202},{"x":278,"y":208},{"x":278,"y":214},{"x":278,"y":220},{"x":278,"y":226},{"x":278,"y":232},{"x":278,"y":238},{"x":278,"y":244},{"x":278,"y":250},{"x":278,"y":256},{"x":278,"y":262},{"x":278,"y":268},{"x":278,"y":274},{"x":278,"y":280},{"x":278,"y":286},{"x":278,"y":292},{"x":278,"y":298},
{"x":282,"y":180},{"x":282,"y":186},{"x":282,"y":192},{"x":282,"y":198},{"x":282,"y":204},{"x":282,"y":210},{"x":282,"y":216},{"x":282,"y":222},{"x":282,"y":228},{"x":282,"y":234},{"x":282,"y":240},{"x":282,"y":246},{"x":282,"y":252},{"x":282,"y":258},{"x":282,"y":264},{"x":282,"y":270},
{"x":302,"y":270},{"x":302,"y":275},{"x":302,"y":292},{"x":302,"y":296},{"x":302,"y":300},
{"x":348,"y":315},{"x":348,"y":320},{"x":348,"y":325},{"x":348,"y":330},
{"x":385,"y":388}
  ]
},
"vconcat": [
 {"hconcat": [
  {"title": {"text": "EP1 node", "orient": "bottom", "anchor": "middle", "font": "Liberation Serif", "fontSize": 16, "fontWeight": "normal", "color": "#222", "offset": 32},
   "vconcat": [{"width": 223, "height": 221,
    "title": {"text": "Blood Glucose Clarke Error Grid", "anchor": "middle", "frame": "group", "font": "Noto Sans", "fontSize": 8.5, "fontWeight": "normal", "color": "#333", "offset": 2},
    "layer": [
     {"data": {"name": "zones"}, "mark": {"type": "rule", "color": "#888", "strokeWidth": 1}, "encoding": {"x": {"field": "x", "type": "quantitative", "scale": {"domain": [0, 400], "nice": false}, "axis": {"values": [0,50,100,150,200,250,300,350,400]}, "title": "Reference Concentration (mg/dl)"}, "y": {"field": "y", "type": "quantitative", "scale": {"domain": [0, 400], "nice": false}, "axis": {"values": [0,50,100,150,200,250,300,350,400]}, "title": "Prediction Concentration (mg/dl)"}, "x2": {"field": "x2"}, "y2": {"field": "y2"}}},
     {"data": {"name": "diag"}, "mark": {"type": "rule", "color": "#999", "strokeWidth": 1, "strokeDash": [1.5, 2.5]}, "encoding": {"x": {"field": "x", "type": "quantitative", "title": "Reference Concentration (mg/dl)"}, "y": {"field": "y", "type": "quantitative", "title": "Prediction Concentration (mg/dl)"}, "x2": {"field": "x2"}, "y2": {"field": "y2"}}},
     {"data": {"name": "labels"}, "mark": {"type": "text", "align": "left", "baseline": "alphabetic", "font": "Noto Sans", "fontSize": 10.5, "color": "#333"}, "encoding": {"x": {"field": "x", "type": "quantitative", "title": "Reference Concentration (mg/dl)"}, "y": {"field": "y", "type": "quantitative", "title": "Prediction Concentration (mg/dl)"}, "text": {"field": "t"}}},
     {"data": {"name": "ep1"}, "mark": {"type": "circle", "color": "#000", "size": 13, "opacity": 1}, "encoding": {"x": {"field": "x", "type": "quantitative", "title": "Reference Concentration (mg/dl)"}, "y": {"field": "y", "type": "quantitative", "title": "Prediction Concentration (mg/dl)"}}}
    ]}]},
  {"title": {"text": "EP2 node", "orient": "bottom", "anchor": "middle", "font": "Liberation Serif", "fontSize": 16, "fontWeight": "normal", "color": "#222", "offset": 28},
   "vconcat": [{"width": 218, "height": 221,
    "title": {"text": "Blood Glucose Clarke Error Grid", "anchor": "middle", "frame": "group", "font": "Noto Sans", "fontSize": 8.5, "fontWeight": "normal", "color": "#333", "offset": 2},
    "layer": [
     {"data": {"name": "zones"}, "mark": {"type": "rule", "color": "#888", "strokeWidth": 1}, "encoding": {"x": {"field": "x", "type": "quantitative", "scale": {"domain": [0, 400], "nice": false}, "axis": {"values": [0,50,100,150,200,250,300,350,400]}, "title": "Reference Concentration (mg/dl)"}, "y": {"field": "y", "type": "quantitative", "scale": {"domain": [0, 400], "nice": false}, "axis": {"values": [0,50,100,150,200,250,300,350,400]}, "title": "Prediction Concentration (mg/dl)"}, "x2": {"field": "x2"}, "y2": {"field": "y2"}}},
     {"data": {"name": "diag"}, "mark": {"type": "rule", "color": "#999", "strokeWidth": 1, "strokeDash": [1.5, 2.5]}, "encoding": {"x": {"field": "x", "type": "quantitative", "title": "Reference Concentration (mg/dl)"}, "y": {"field": "y", "type": "quantitative", "title": "Prediction Concentration (mg/dl)"}, "x2": {"field": "x2"}, "y2": {"field": "y2"}}},
     {"data": {"name": "labels"}, "mark": {"type": "text", "align": "left", "baseline": "alphabetic", "font": "Noto Sans", "fontSize": 10.5, "color": "#333"}, "encoding": {"x": {"field": "x", "type": "quantitative", "title": "Reference Concentration (mg/dl)"}, "y": {"field": "y", "type": "quantitative", "title": "Prediction Concentration (mg/dl)"}, "text": {"field": "t"}}},
     {"data": {"name": "ep2"}, "mark": {"type": "circle", "color": "#000", "size": 13, "opacity": 1}, "encoding": {"x": {"field": "x", "type": "quantitative", "title": "Reference Concentration (mg/dl)"}, "y": {"field": "y", "type": "quantitative", "title": "Prediction Concentration (mg/dl)"}}}
    ]}]}
 ], "spacing": 27},
 {"spacing": 18, "vconcat": [
 {"hconcat": [
  {"title": {"text": "EP3 node", "orient": "bottom", "anchor": "middle", "font": "Liberation Serif", "fontSize": 16, "fontWeight": "normal", "color": "#222", "offset": 31},
   "vconcat": [{"width": 220, "height": 219,
    "title": {"text": "Blood Glucose Clarke Error Grid", "anchor": "middle", "frame": "group", "font": "Noto Sans", "fontSize": 8.5, "fontWeight": "normal", "color": "#333", "offset": 2},
    "layer": [
     {"data": {"name": "zones"}, "mark": {"type": "rule", "color": "#888", "strokeWidth": 1}, "encoding": {"x": {"field": "x", "type": "quantitative", "scale": {"domain": [0, 400], "nice": false}, "axis": {"values": [0,50,100,150,200,250,300,350,400]}, "title": "Reference Concentration (mg/dl)"}, "y": {"field": "y", "type": "quantitative", "scale": {"domain": [0, 400], "nice": false}, "axis": {"values": [0,50,100,150,200,250,300,350,400]}, "title": "Prediction Concentration (mg/dl)"}, "x2": {"field": "x2"}, "y2": {"field": "y2"}}},
     {"data": {"name": "diag"}, "mark": {"type": "rule", "color": "#999", "strokeWidth": 1, "strokeDash": [1.5, 2.5]}, "encoding": {"x": {"field": "x", "type": "quantitative", "title": "Reference Concentration (mg/dl)"}, "y": {"field": "y", "type": "quantitative", "title": "Prediction Concentration (mg/dl)"}, "x2": {"field": "x2"}, "y2": {"field": "y2"}}},
     {"data": {"name": "labels"}, "mark": {"type": "text", "align": "left", "baseline": "alphabetic", "font": "Noto Sans", "fontSize": 10.5, "color": "#333"}, "encoding": {"x": {"field": "x", "type": "quantitative", "title": "Reference Concentration (mg/dl)"}, "y": {"field": "y", "type": "quantitative", "title": "Prediction Concentration (mg/dl)"}, "text": {"field": "t"}}},
     {"data": {"name": "ep3"}, "mark": {"type": "circle", "color": "#000", "size": 13, "opacity": 1}, "encoding": {"x": {"field": "x", "type": "quantitative", "title": "Reference Concentration (mg/dl)"}, "y": {"field": "y", "type": "quantitative", "title": "Prediction Concentration (mg/dl)"}}}
    ]}]},
  {"title": {"text": "EP4 node", "orient": "bottom", "anchor": "middle", "font": "Liberation Serif", "fontSize": 16, "fontWeight": "normal", "color": "#222", "offset": 33},
   "vconcat": [{"width": 215, "height": 216,
    "title": {"text": "Blood Glucose Clarke Error Grid", "anchor": "middle", "frame": "group", "font": "Noto Sans", "fontSize": 8.5, "fontWeight": "normal", "color": "#333", "offset": 2},
    "layer": [
     {"data": {"name": "zones"}, "mark": {"type": "rule", "color": "#888", "strokeWidth": 1}, "encoding": {"x": {"field": "x", "type": "quantitative", "scale": {"domain": [0, 400], "nice": false}, "axis": {"values": [0,50,100,150,200,250,300,350,400]}, "title": "Reference Concentration (mg/dl)"}, "y": {"field": "y", "type": "quantitative", "scale": {"domain": [0, 400], "nice": false}, "axis": {"values": [0,50,100,150,200,250,300,350,400]}, "title": "Prediction Concentration (mg/dl)"}, "x2": {"field": "x2"}, "y2": {"field": "y2"}}},
     {"data": {"name": "diag"}, "mark": {"type": "rule", "color": "#999", "strokeWidth": 1, "strokeDash": [1.5, 2.5]}, "encoding": {"x": {"field": "x", "type": "quantitative", "title": "Reference Concentration (mg/dl)"}, "y": {"field": "y", "type": "quantitative", "title": "Prediction Concentration (mg/dl)"}, "x2": {"field": "x2"}, "y2": {"field": "y2"}}},
     {"data": {"name": "labels"}, "mark": {"type": "text", "align": "left", "baseline": "alphabetic", "font": "Noto Sans", "fontSize": 10.5, "color": "#333"}, "encoding": {"x": {"field": "x", "type": "quantitative", "title": "Reference Concentration (mg/dl)"}, "y": {"field": "y", "type": "quantitative", "title": "Prediction Concentration (mg/dl)"}, "text": {"field": "t"}}},
     {"data": {"name": "ep4"}, "mark": {"type": "circle", "color": "#000", "size": 13, "opacity": 1}, "encoding": {"x": {"field": "x", "type": "quantitative", "title": "Reference Concentration (mg/dl)"}, "y": {"field": "y", "type": "quantitative", "title": "Prediction Concentration (mg/dl)"}}}
    ]}]}
 ], "spacing": 34},
 {"hconcat": [
  {"title": {"text": "EP5 node", "orient": "bottom", "anchor": "middle", "font": "Liberation Serif", "fontSize": 16, "fontWeight": "normal", "color": "#222", "offset": 19},
   "vconcat": [{"width": 226, "height": 226,
    "title": {"text": "Blood Glucose Clarke Error Grid", "anchor": "middle", "frame": "group", "font": "Noto Sans", "fontSize": 8.5, "fontWeight": "normal", "color": "#333", "offset": 2},
    "layer": [
     {"data": {"name": "zones"}, "mark": {"type": "rule", "color": "#888", "strokeWidth": 1}, "encoding": {"x": {"field": "x", "type": "quantitative", "scale": {"domain": [0, 400], "nice": false}, "axis": {"values": [0,50,100,150,200,250,300,350,400]}, "title": "Reference Concentration (mg/dl)"}, "y": {"field": "y", "type": "quantitative", "scale": {"domain": [0, 400], "nice": false}, "axis": {"values": [0,50,100,150,200,250,300,350,400]}, "title": "Prediction Concentration (mg/dl)"}, "x2": {"field": "x2"}, "y2": {"field": "y2"}}},
     {"data": {"name": "diag"}, "mark": {"type": "rule", "color": "#999", "strokeWidth": 1, "strokeDash": [1.5, 2.5]}, "encoding": {"x": {"field": "x", "type": "quantitative", "title": "Reference Concentration (mg/dl)"}, "y": {"field": "y", "type": "quantitative", "title": "Prediction Concentration (mg/dl)"}, "x2": {"field": "x2"}, "y2": {"field": "y2"}}},
     {"data": {"name": "labels"}, "mark": {"type": "text", "align": "left", "baseline": "alphabetic", "font": "Noto Sans", "fontSize": 10.5, "color": "#333"}, "encoding": {"x": {"field": "x", "type": "quantitative", "title": "Reference Concentration (mg/dl)"}, "y": {"field": "y", "type": "quantitative", "title": "Prediction Concentration (mg/dl)"}, "text": {"field": "t"}}},
     {"data": {"name": "ep5"}, "mark": {"type": "circle", "color": "#000", "size": 13, "opacity": 1}, "encoding": {"x": {"field": "x", "type": "quantitative", "title": "Reference Concentration (mg/dl)"}, "y": {"field": "y", "type": "quantitative", "title": "Prediction Concentration (mg/dl)"}}}
    ]}]},
  {"title": {"text": "EP6 node", "orient": "bottom", "anchor": "middle", "font": "Liberation Serif", "fontSize": 16, "fontWeight": "normal", "color": "#222", "offset": 19},
   "vconcat": [{"width": 225, "height": 225,
    "title": {"text": "Blood Glucose Clarke Error Grid", "anchor": "middle", "frame": "group", "font": "Noto Sans", "fontSize": 8.5, "fontWeight": "normal", "color": "#333", "offset": 2},
    "layer": [
     {"data": {"name": "zones"}, "mark": {"type": "rule", "color": "#888", "strokeWidth": 1}, "encoding": {"x": {"field": "x", "type": "quantitative", "scale": {"domain": [0, 400], "nice": false}, "axis": {"values": [0,50,100,150,200,250,300,350,400]}, "title": "Reference Concentration (mg/dl)"}, "y": {"field": "y", "type": "quantitative", "scale": {"domain": [0, 400], "nice": false}, "axis": {"values": [0,50,100,150,200,250,300,350,400]}, "title": "Prediction Concentration (mg/dl)"}, "x2": {"field": "x2"}, "y2": {"field": "y2"}}},
     {"data": {"name": "diag"}, "mark": {"type": "rule", "color": "#999", "strokeWidth": 1, "strokeDash": [1.5, 2.5]}, "encoding": {"x": {"field": "x", "type": "quantitative", "title": "Reference Concentration (mg/dl)"}, "y": {"field": "y", "type": "quantitative", "title": "Prediction Concentration (mg/dl)"}, "x2": {"field": "x2"}, "y2": {"field": "y2"}}},
     {"data": {"name": "labels"}, "mark": {"type": "text", "align": "left", "baseline": "alphabetic", "font": "Noto Sans", "fontSize": 10.5, "color": "#333"}, "encoding": {"x": {"field": "x", "type": "quantitative", "title": "Reference Concentration (mg/dl)"}, "y": {"field": "y", "type": "quantitative", "title": "Prediction Concentration (mg/dl)"}, "text": {"field": "t"}}},
     {"data": {"name": "ep6"}, "mark": {"type": "circle", "color": "#000", "size": 13, "opacity": 1}, "encoding": {"x": {"field": "x", "type": "quantitative", "title": "Reference Concentration (mg/dl)"}, "y": {"field": "y", "type": "quantitative", "title": "Prediction Concentration (mg/dl)"}}}
    ]}]}
 ], "spacing": 31}
 ]}
]
}
